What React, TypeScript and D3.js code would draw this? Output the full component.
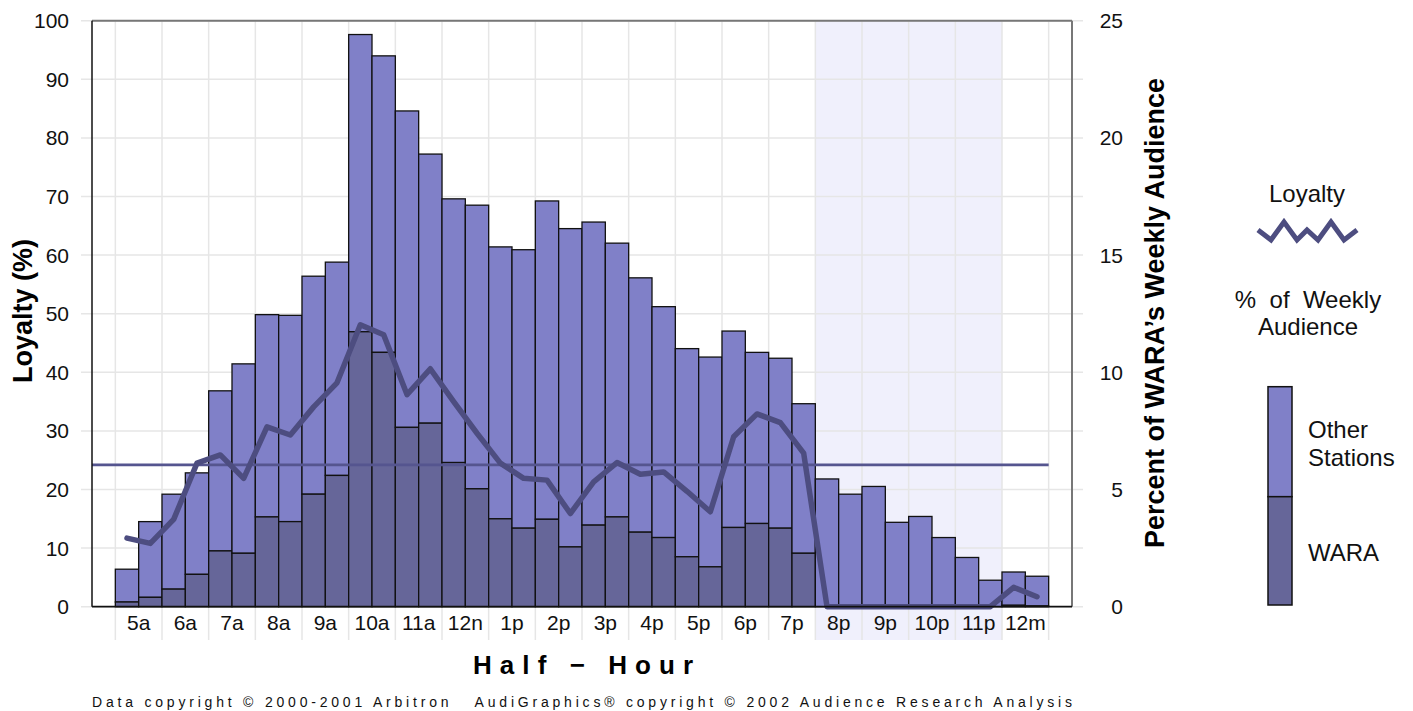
import React from "react";
import * as d3 from "d3";

// Half-hour categories (labels shown every other bar)
const hourLabels = ["5a","6a","7a","8a","9a","10a","11a","12n","1p","2p","3p","4p","5p","6p","7p","8p","9p","10p","11p","12m"];

// % of WARA's weekly audience (right axis units), per half hour
const waraShare = [0.2,0.4,0.75,1.38,2.38,2.28,3.83,3.63,4.8,5.6,11.73,10.85,7.65,7.83,6.15,5.03,3.75,3.35,3.73,2.55,3.48,3.83,3.18,2.95,2.13,1.7,3.38,3.55,3.35,2.28,0,0,0,0,0,0,0,0,0.06,0.03];
const otherShare = [1.4,3.23,4.05,4.33,6.83,8.08,8.63,8.8,9.3,9.1,12.68,12.65,13.5,11.48,11.25,12.1,11.6,11.88,13.58,13.58,12.93,11.68,10.85,9.85,8.88,8.95,8.38,7.3,7.25,6.38,5.45,4.8,5.13,3.6,3.85,2.95,2.1,1.13,1.42,1.27];

// Loyalty (%), left axis units
const loyalty = [11.7,10.8,14.9,24.5,25.9,21.9,30.7,29.3,34.1,38.2,48.1,46.4,36.2,40.6,35.0,29.6,24.5,21.9,21.6,15.9,21.3,24.6,22.6,23.0,19.7,16.2,29.0,32.9,31.4,26.2,0,0,0,0,0,0,0,0,3.3,1.7];
const loyaltyAverage = 24.2;

const leftTicks = [0,10,20,30,40,50,60,70,80,90,100];
const rightTicks = [0,5,10,15,20,25];
const shadedRange = [30, 38]; // half-hour slots 8p .. 11:30p

const C_OTHER = "#8080c8";
const C_WARA = "#666699";
const C_LINE = "#4d4d80";
const C_AVG = "#55558f";
const C_BAND = "#f0f0fc";
const C_GRID = "#e6e6e6";
const FONT = "'Liberation Sans', Arial, Helvetica, sans-serif";

export default function App() {
  const W = 1413, H = 711;
  const left = 92, right = 1072, top = 20.7, bottom = 606.7;
  const n = waraShare.length;
  const x = d3.scaleLinear().domain([-1, n + 1]).range([left, right]);
  const yL = d3.scaleLinear().domain([0, 100]).range([bottom, top]);
  const yR = d3.scaleLinear().domain([0, 25]).range([bottom, top]);
  const bw = x(1) - x(0);

  const line = d3.line<number>()
    .x((_, i) => x(i + 0.5))
    .y((d) => yL(d));

  const vGrid = d3.range(0, n + 1, 2);

  const zig = [[1258,230],[1271,240],[1284,222],[1297,240],[1307,230],[1318,240],[1331,222],[1344,240],[1357,230]];

  return (
    <svg width={W} height={H} style={{ position: "absolute", left: 0, top: 0, background: "#fff" }} fontFamily={FONT}>
      {/* shaded evening band */}
      <rect x={x(shadedRange[0])} y={top} width={x(shadedRange[1]) - x(shadedRange[0])} height={640 - top} fill={C_BAND} />
      {/* grid */}
      {leftTicks.map((t) => (
        <line key={"h" + t} x1={81} x2={1083} y1={yL(t)} y2={yL(t)} stroke={C_GRID} strokeWidth={1.5} />
      ))}
      {vGrid.map((i) => (
        <line key={"v" + i} x1={x(i)} x2={x(i)} y1={top} y2={640} stroke={C_GRID} strokeWidth={1.5} />
      ))}
      {/* bars */}
      {waraShare.map((w, i) => {
        const tot = w + otherShare[i];
        return (
          <g key={"b" + i}>
            <rect x={x(i)} y={yR(tot)} width={bw} height={yR(w) - yR(tot)} fill={C_OTHER} stroke="#111" strokeWidth={1.3} />
            {w > 0 && (
              <rect x={x(i)} y={yR(w)} width={bw} height={yR(0) - yR(w)} fill={C_WARA} stroke="#111" strokeWidth={1.3} />
            )}
          </g>
        );
      })}
      {/* average loyalty */}
      <line x1={left} x2={x(n)} y1={yL(loyaltyAverage)} y2={yL(loyaltyAverage)} stroke={C_AVG} strokeWidth={2.6} />
      {/* loyalty line */}
      <path d={line(loyalty) || ""} fill="none" stroke={C_LINE} strokeWidth={5.5} strokeLinejoin="round" strokeLinecap="round" />
      {/* frame */}
      <line x1={left} x2={right} y1={top} y2={top} stroke="#777" strokeWidth={2} />
      <line x1={right} x2={right} y1={top} y2={bottom} stroke="#777" strokeWidth={2} />
      <line x1={left} x2={left} y1={top} y2={bottom} stroke="#111" strokeWidth={1.5} />
      <line x1={left} x2={right} y1={bottom} y2={bottom} stroke="#111" strokeWidth={1.8} />
      {/* left ticks */}
      {leftTicks.map((t) => (
        <text key={"lt" + t} x={69} y={yL(t) + 7.5} fontSize={21} textAnchor="end" fill="#111">{t}</text>
      ))}
      {rightTicks.map((t) => (
        <text key={"rt" + t} x={1123} y={yR(t) + 7.5} fontSize={21} textAnchor="end" fill="#111">{t}</text>
      ))}
      {hourLabels.map((l, k) => (
        <text key={"x" + l} x={x(2 * k + 1)} y={630} fontSize={21} textAnchor="middle" fill="#111">{l}</text>
      ))}
      {/* axis titles */}
      <text transform="translate(32,311) rotate(-90)" fontSize={27} fontWeight="bold" textAnchor="middle" fill="#000">Loyalty (%)</text>
      <text transform="translate(1164,313) rotate(-90)" fontSize={27} fontWeight="bold" textAnchor="middle" fill="#000">Percent of WARA’s Weekly Audience</text>
      <text x={583} y={674} fontSize={26} fontWeight="bold" textAnchor="middle" textLength={220} lengthAdjust="spacing" fill="#000" style={{ whiteSpace: "pre" }}>Half − Hour</text>
      <text x={582} y={707} fontSize={14} textAnchor="middle" textLength={980} lengthAdjust="spacing" fill="#111" style={{ whiteSpace: "pre" }}>Data copyright © 2000-2001 Arbitron   AudiGraphics® copyright © 2002 Audience Research Analysis</text>
      {/* legend */}
      <text x={1307} y={202} fontSize={24} textAnchor="middle" fill="#111">Loyalty</text>
      <polyline points={zig.map((p) => p.join(",")).join(" ")} fill="none" stroke={C_LINE} strokeWidth={5} strokeLinejoin="miter" />
      <text x={1308} y={308} fontSize={24} textAnchor="middle" fill="#111" style={{ whiteSpace: "pre" }}>%  of  Weekly</text>
      <text x={1308} y={335} fontSize={24} textAnchor="middle" fill="#111">Audience</text>
      <rect x={1268} y={386.7} width={24} height={110} fill={C_OTHER} stroke="#111" strokeWidth={1.5} />
      <rect x={1268} y={496.7} width={24} height={108.3} fill={C_WARA} stroke="#111" strokeWidth={1.5} />
      <text x={1308} y={438} fontSize={24} fill="#111">Other</text>
      <text x={1308} y={466} fontSize={24} fill="#111">Stations</text>
      <text x={1308} y={561} fontSize={24} fill="#111">WARA</text>
    </svg>
  );
}
